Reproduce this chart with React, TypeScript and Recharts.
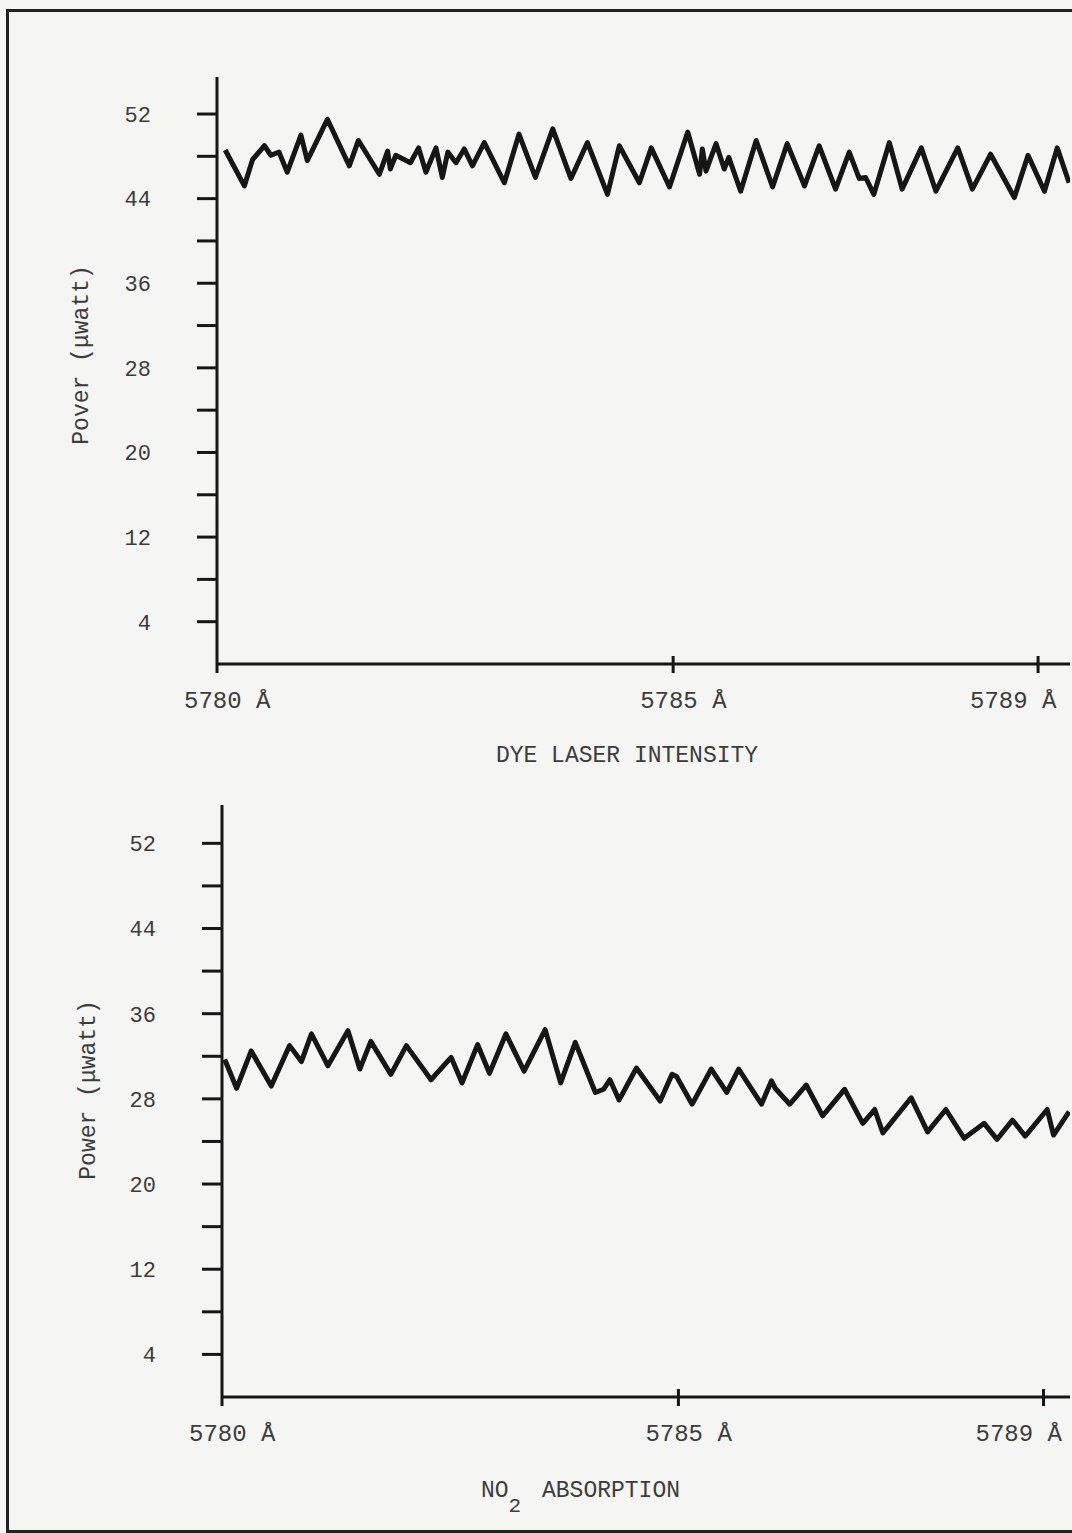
import React from 'react';
import { LineChart, Line, XAxis, YAxis } from 'recharts';

// wavelength (Å) / power (µwatt)
const dyeWavelength = [
  5780.09, 5780.30, 5780.39, 5780.52, 5780.59, 5780.68, 5780.77, 5780.92, 5780.99, 5781.21,
  5781.45, 5781.55, 5781.78, 5781.87, 5781.90, 5781.96, 5782.12, 5782.21, 5782.29, 5782.40,
  5782.47, 5782.53, 5782.62, 5782.71, 5782.80, 5782.93, 5783.15, 5783.31, 5783.49, 5783.68,
  5783.88, 5784.06, 5784.28, 5784.41, 5784.63, 5784.76, 5784.96, 5785.16, 5785.29, 5785.32,
  5785.36, 5785.47, 5785.56, 5785.61, 5785.74, 5785.91, 5786.09, 5786.25, 5786.44, 5786.60,
  5786.78, 5786.93, 5787.04, 5787.11, 5787.20, 5787.37, 5787.51, 5787.72, 5787.88, 5788.12,
  5788.28, 5788.48, 5788.74, 5788.89, 5789.07, 5789.21, 5789.34,
];
const dyePower = [
  48.6, 45.2, 47.7, 49.0, 48.1, 48.4, 46.5, 50.0, 47.6, 51.5,
  47.1, 49.5, 46.3, 48.5, 46.8, 48.1, 47.4, 48.8, 46.5, 48.8,
  46.0, 48.4, 47.4, 48.7, 47.1, 49.3, 45.5, 50.1, 46.0, 50.6,
  45.9, 49.3, 44.4, 49.0, 45.5, 48.8, 45.1, 50.3, 46.3, 48.7,
  46.6, 49.2, 46.8, 47.9, 44.7, 49.5, 45.1, 49.2, 45.2, 49.0,
  44.9, 48.4, 45.9, 46.0, 44.4, 49.3, 44.9, 48.8, 44.7, 48.8,
  44.9, 48.2, 44.1, 48.1, 44.7, 48.8, 45.5,
];

const no2Wavelength = [
  5780.03, 5780.16, 5780.32, 5780.54, 5780.74, 5780.87, 5780.98, 5781.16, 5781.38, 5781.51,
  5781.63, 5781.85, 5782.02, 5782.29, 5782.51, 5782.63, 5782.80, 5782.93, 5783.11, 5783.31,
  5783.54, 5783.71, 5783.87, 5784.09, 5784.18, 5784.25, 5784.35, 5784.54, 5784.80, 5784.93,
  5784.98, 5785.15, 5785.36, 5785.53, 5785.66, 5785.91, 5786.02, 5786.06, 5786.22, 5786.40,
  5786.58, 5786.82, 5787.02, 5787.15, 5787.24, 5787.55, 5787.73, 5787.93, 5788.13, 5788.35,
  5788.49, 5788.66, 5788.80, 5789.04, 5789.11, 5789.28,
];
const no2Power = [
  31.7, 29.0, 32.5, 29.2, 33.0, 31.5, 34.1, 31.1, 34.4, 30.8,
  33.4, 30.3, 33.0, 29.8, 31.9, 29.5, 33.1, 30.4, 34.1, 30.6,
  34.5, 29.5, 33.3, 28.6, 28.9, 29.8, 27.9, 30.9, 27.8, 30.3,
  30.1, 27.5, 30.8, 28.6, 30.8, 27.5, 29.7, 29.0, 27.5, 29.3,
  26.4, 28.9, 25.7, 27.0, 24.8, 28.1, 24.9, 27.0, 24.3, 25.7,
  24.2, 26.0, 24.5, 27.0, 24.6, 26.8,
];

const xTicks = [5780, 5785, 5789];
const yTicks = [4, 8, 12, 16, 20, 24, 28, 32, 36, 40, 44, 48, 52];
const yLabelled = [4, 12, 20, 28, 36, 44, 52];

const MONO = '"Liberation Mono", "DejaVu Sans Mono", monospace';
const INK = '#161616';
const TYPE = '#3c3c3c';

const WaveTick = (props: any) => {
  const { x, y, payload } = props;
  const v = payload.value;
  // last label sits left of its tick so it stays on the page
  const dx = v === 5789 ? -68 : -33;
  return (
    <g>
      <line x1={x} x2={x} y1={v === 5780 ? y : y - 8} y2={y + 9} stroke={INK} strokeWidth={3} />
      <text x={x + dx} y={y + 44} fontFamily={MONO} fontSize={24} fill={TYPE}>
        {`${v} Å`}
      </text>
    </g>
  );
};

type PanelProps = {
  wl: number[];
  pw: number[];
  top: number;
  height: number;
  plotTop: number;
  plotBottom: number;
  axisX: number;
  xMax: number;
  yMax: number;
  yLabel: string;
  yLabelAt: [number, number];
  title: React.ReactNode;
};

const Panel = ({ wl, pw, top, height, plotTop, plotBottom, axisX, xMax, yMax, yLabel, yLabelAt, title }: PanelProps) => {
  const data = wl.map((w, i) => ({ wl: w, power: pw[i] }));
  const [lx, ly] = yLabelAt;
  return (
    <div style={{ position: 'absolute', left: 0, top }}>
      <LineChart width={1072} height={height} data={data}
        margin={{ top: plotTop, right: 2, left: 0, bottom: 0 }}>
        <XAxis dataKey="wl" type="number" domain={[5780, xMax]} allowDataOverflow
          ticks={xTicks} interval={0} height={height - plotBottom}
          axisLine={{ stroke: INK, strokeWidth: 3 }} tickLine={false}
          tickSize={0} tickMargin={0} tick={WaveTick}
          label={{ content: () => title }} />
        <YAxis type="number" domain={[0, yMax]} allowDataOverflow ticks={yTicks} interval={0}
          width={axisX} tickSize={20} tickMargin={46}
          axisLine={{ stroke: INK, strokeWidth: 3 }}
          tickLine={{ stroke: INK, strokeWidth: 3 }}
          tick={{ fontFamily: MONO, fontSize: 22, fill: TYPE }}
          tickFormatter={(v: number) => (yLabelled.includes(v) ? String(v) : '')}
          label={{
            content: () => (
              <text x={lx} y={ly} transform={`rotate(-90 ${lx} ${ly})`} textAnchor="middle"
                fontFamily={MONO} fontSize={23} fill={TYPE}>{yLabel}</text>
            ),
          }} />
        <Line type="linear" dataKey="power" stroke={INK} strokeWidth={5} dot={false}
          strokeLinejoin="round" isAnimationActive={false} />
      </LineChart>
    </div>
  );
};

export default function App() {
  return (
    <div style={{ position: 'absolute', left: 0, top: 0, width: 1072, height: 1533, overflow: 'hidden', background: '#f5f5f3' }}>
      <div style={{ position: 'absolute', left: 6, top: 9, width: 1120, height: 1518,
        borderTop: '3px solid #222', borderLeft: '3px solid #222', borderBottom: '3px solid #222' }} />
      <Panel wl={dyeWavelength} pw={dyePower} top={0} height={800} plotTop={77} plotBottom={664}
        axisX={217} xMax={5789.35} yMax={55.5} yLabel="Pover (μwatt)" yLabelAt={[88, 355]}
        title={<text x={627} y={762} textAnchor="middle" fontFamily={MONO} fontSize={23} fill={TYPE}>DYE LASER INTENSITY</text>} />
      <Panel wl={no2Wavelength} pw={no2Power} top={760} height={773} plotTop={45} plotBottom={637}
        axisX={222} xMax={5789.29} yMax={55.6} yLabel="Power (μwatt)" yLabelAt={[95, 330]}
        title={
          <text x={481} y={737} fontFamily={MONO} fontSize={23} fill={TYPE}>
            NO<tspan dy={15} fontSize={21}>2</tspan><tspan x={542} dy={-15}>ABSORPTION</tspan>
          </text>
        } />
    </div>
  );
}
